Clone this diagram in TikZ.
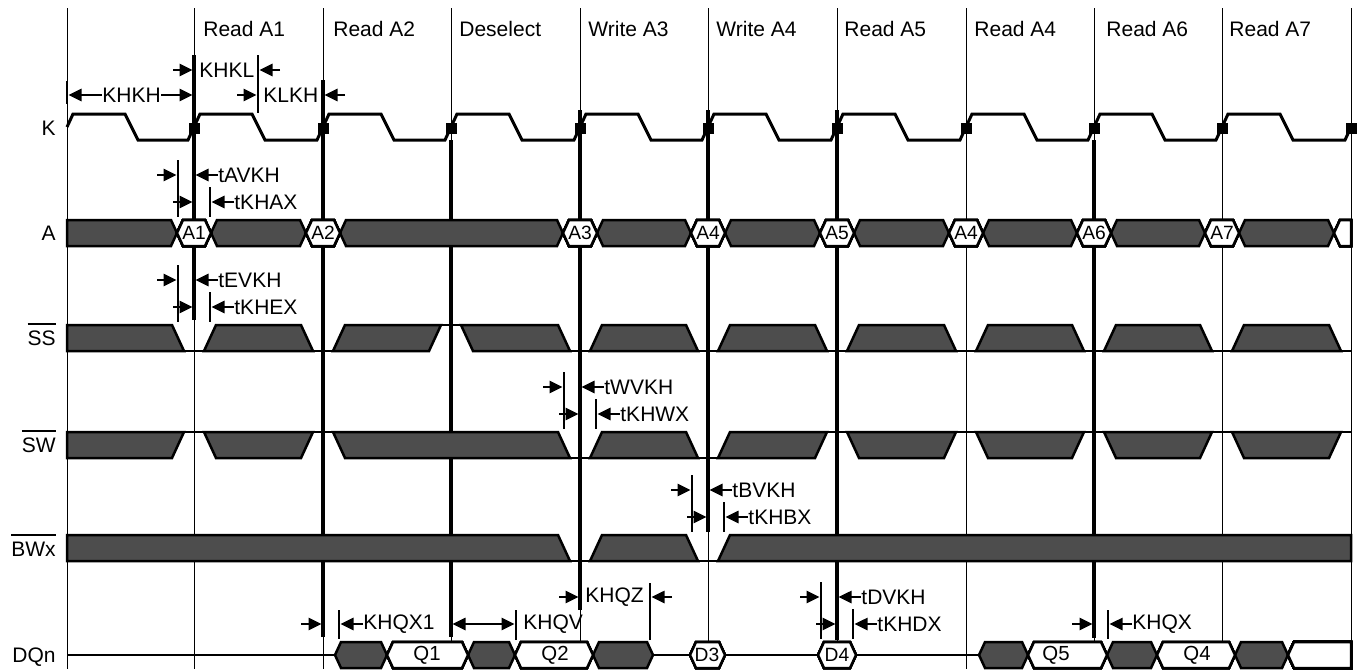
\documentclass[tikz,border=0pt]{standalone}
\usepackage{fontspec}
\setmainfont{Liberation Sans}
\usetikzlibrary{arrows.meta}

\definecolor{busgray}{RGB}{77,77,77}

\tikzset{
  grid line/.style={line width=0.5pt},
  edge line/.style={line width=1.6pt},
  tick line/.style={line width=1.4pt},
  clock/.style={line width=1.5pt, line join=miter},
  wave/.style={line width=1.25pt, line join=miter},
  bus/.style={wave, fill=busgray},
  busval/.style={wave, fill=white},
  tlabel/.style={font=\fontsize{10.5}{12}\selectfont, inner sep=0pt, anchor=west},
  siglabel/.style={font=\fontsize{10.5}{12}\selectfont, inner sep=0pt, anchor=base east},
  alabel/.style={font=\fontsize{9.6}{11}\selectfont, inner sep=0pt},
  qlabel/.style={font=\fontsize{10.2}{12}\selectfont, inner sep=0pt},
  tarrow/.style={line width=1.3pt, -{Triangle[length=6.5pt,width=6pt]}},
  tdarrow/.style={line width=1.3pt, {Triangle[length=6.5pt,width=6pt]}-{Triangle[length=6.5pt,width=6pt]}},
}

% signal names with a bar over them
\newcommand{\negsig}[1]{\vbox{\hrule height 0.8pt\kern 2.8pt\hbox{#1}}}

% one bus cell from #2 to #3 round the line y = #4
\newcommand{\busseg}[4][bus]{%
  \draw[#1] ({#2},{#4}) -- ({#2+6},{#4-13}) -- ({#3-6},{#4-13}) -- ({#3},{#4})
    -- ({#3-6},{#4+13}) -- ({#2+6},{#4+13}) -- cycle;}

% don't care block: top y, then x of top left, top right, bottom right, bottom left
\newcommand{\dcbox}[5]{%
  \draw[bus] ({#2},{#1}) -- ({#3},{#1}) -- ({#4},{#1+26}) -- ({#5},{#1+26}) -- cycle;}

% arrows pointing in at #1 and #2, text after #1
\newcommand{\timewin}[5]{%
  \node[tlabel] (#5) at ({#1+5},{#3}) {#4};
  \coordinate (#5-a) at ({#1-21},{#3});
  \coordinate (#5-b) at ({#1-1.5},{#3});
  \coordinate (#5-c) at ({#2+22},{#3});
  \coordinate (#5-d) at ({#2+1.5},{#3});
  \draw[tarrow] (#5-a) -- (#5-b);
  \draw[tarrow] (#5-c) -- (#5-d);}

% setup and hold marks round edge #1 above a signal whose top is #2
\newcommand{\setuphold}[5]{%
  \coordinate (#5-s1) at ({#1-16},{#2-60});
  \coordinate (#5-s2) at ({#1-16},{#2-3});
  \coordinate (#5-h1) at ({#1+16},{#2-33});
  \coordinate (#5-h2) at ({#1+16},{#2-3});
  \draw[tick line] (#5-s1) -- (#5-s2);
  \draw[tick line] (#5-h1) -- (#5-h2);
  \node[tlabel] (#5-su) at ({#1+24},{#2-45}) {#3};
  \node[tlabel] (#5-ho) at ({#1+40},{#2-18}) {#4};
  \coordinate (#5-a) at ({#1-37},{#2-45});
  \coordinate (#5-b) at ({#1-17.5},{#2-45});
  \coordinate (#5-c) at ({#1+1.5},{#2-45});
  \coordinate (#5-d) at ({#1-21},{#2-18});
  \coordinate (#5-e) at ({#1-1.5},{#2-18});
  \coordinate (#5-f) at ({#1+17.5},{#2-18});
  \draw[tarrow] (#5-a) -- (#5-b);
  \draw[tarrow] (#5-su.west) -- (#5-c);
  \draw[tarrow] (#5-d) -- (#5-e);
  \draw[tarrow] (#5-ho.west) -- (#5-f);}

% output hold mark: edge #1, tick #2, y #3
\newcommand{\holdmark}[5]{%
  \coordinate (#5-t1) at ({#2},{#3-14});
  \coordinate (#5-t2) at ({#2},{#3+15});
  \draw[tick line] (#5-t1) -- (#5-t2);
  \node[tlabel] (#5) at ({#2+24},{#3}) {#4};
  \coordinate (#5-a) at ({#1-22},{#3});
  \coordinate (#5-b) at ({#1-1.5},{#3});
  \coordinate (#5-c) at ({#2+1.5},{#3});
  \draw[tarrow] (#5-a) -- (#5-b);
  \draw[tarrow] (#5.west) -- (#5-c);}

\begin{document}
\begin{tikzpicture}[x=0.5pt,y=-0.5pt]
  \useasboundingbox (0,0) rectangle (1358,669);

  % clock edges
  \foreach \e in {67,194,323,451,580,708,837,966,1094,1222,1351}
    \draw[grid line] (\e,8) -- (\e,669);
  \foreach \e/\a/\b in {194/55/320,323/80/637,451/140/637,580/110/610,
      708/110/532,837/110/640,1094/140/638}
    \draw[edge line] (\e,\a) -- (\e,\b);

  % cycle names
  \foreach \x/\t [count=\i] in {203/Read A1,333/Read A2,459/Deselect,588/Write A3,
      716/Write A4,844/Read A5,974/Read A4,1106/Read A6,1229/Read A7}
    \node[tlabel,anchor=base west] (cyc\i) at (\x,36) {\t};

  % signal names
  \node[siglabel] (k) at (56,135) {K};
  \node[siglabel] (a) at (56,240) {A};
  \node[siglabel] (ss) at (56,345) {\negsig{SS}};
  \node[siglabel] (sw) at (56,452) {\negsig{SW}};
  \node[siglabel] (bw) at (56,556) {\negsig{BWx}};
  \node[siglabel] (dq) at (56,662) {DQn};

  % K
  \draw[clock] (67,127) -- (73,114)
    \foreach \e/\n in {67/194,194/323,323/451,451/580,580/708,708/837,
        837/966,966/1094,1094/1222}
      { -- ({\e+58},114) -- ({\e+71},140) -- ({\n-6},140) -- ({\n+6},114) }
    -- (1280,114) -- (1293,140) -- (1345,140) -- (1351,127);
  \foreach \e in {194,323,451,580,708,837,966,1094,1222,1351}
    \fill ({\e-5.5},122.5) rectangle ({\e+5.5},133.5);

  % A
  \draw[bus] (67,220) -- (171,220) -- (177,233) -- (171,246) -- (67,246) -- cycle;
  \foreach \a/\b in {211/306,340/563,597/691,725/820,854/949,983/1077,1111/1205,1239/1334}
    \busseg{\a}{\b}{233}
  \foreach \c/\t [count=\i] in {194/A1,323/A2,580/A3,708/A4,837/A5,966/A4,1094/A6,1222/A7}
    {\busseg[busval]{\c-17}{\c+17}{233}
     \node[alabel] (adr\i) at (\c,233) {\t};}
  \draw[busval] (1334,233) -- (1340,220) -- (1351,220) -- (1351,246) -- (1340,246) -- cycle;

  % SS
  \dcbox{325}{67}{172}{184}{67}
  \dcbox{325}{216}{301}{313}{204}
  \dcbox{325}{345}{441}{429}{333}
  \dcbox{325}{461}{558}{570}{473}
  \dcbox{325}{602}{686}{698}{590}
  \dcbox{325}{730}{815}{827}{718}
  \dcbox{325}{859}{944}{956}{847}
  \dcbox{325}{988}{1072}{1084}{976}
  \dcbox{325}{1116}{1200}{1212}{1104}
  \dcbox{325}{1244}{1329}{1341}{1232}
  \foreach \a/\b in {184/204,313/333,570/590,698/718,827/847,956/976,1084/1104,1212/1232,1341/1351}
    \draw[wave] (\a,351) -- (\b,351);
  \draw[wave] (441,325) -- (461,325);

  % SW
  \dcbox{432}{67}{184}{172}{67}
  \dcbox{432}{204}{313}{301}{216}
  \dcbox{432}{333}{558}{570}{345}
  \dcbox{432}{602}{686}{698}{590}
  \dcbox{432}{730}{827}{815}{718}
  \dcbox{432}{847}{956}{944}{859}
  \dcbox{432}{976}{1084}{1072}{988}
  \dcbox{432}{1104}{1212}{1200}{1116}
  \dcbox{432}{1232}{1341}{1329}{1244}
  \foreach \a/\b in {184/204,313/333,827/847,956/976,1084/1104,1212/1232,1341/1351}
    \draw[wave] (\a,432) -- (\b,432);
  \foreach \a/\b in {570/590,698/718}
    \draw[wave] (\a,458) -- (\b,458);

  % BWx
  \dcbox{535}{67}{558}{570}{67}
  \dcbox{535}{602}{686}{698}{590}
  \dcbox{535}{730}{1351}{1351}{718}
  \foreach \a/\b in {570/590,698/718}
    \draw[wave] (\a,561) -- (\b,561);

  % DQn
  \foreach \a/\b in {67/335,653/690,725/818,856/979}
    \draw[wave] (\a,655) -- (\b,655);
  \foreach \a/\b in {335/387,468/515,593/653,979/1028,1107/1157,1235/1288}
    \busseg{\a}{\b}{655}
  \foreach \a/\b in {387/468,515/593,690/725,818/856,1028/1107,1157/1235}
    \busseg[busval]{\a}{\b}{655}
  \draw[busval] (1288,655) -- (1294,642) -- (1351,642) -- (1351,668) -- (1294,668) -- cycle;
  \node[qlabel] (q1) at (427,655) {Q1};
  \node[qlabel] (q2) at (555,655) {Q2};
  \node[alabel] (d3) at (707,655) {D3};
  \node[alabel] (d4) at (837,655) {D4};
  \node[qlabel] (q5) at (1056,655) {Q5};
  \node[qlabel] (q4) at (1197,655) {Q4};

  % clock timings
  \coordinate (khkh-t1) at (67,81);
  \coordinate (khkh-t2) at (67,104);
  \draw[tick line] (khkh-t1) -- (khkh-t2);
  \node[tlabel] (khkh) at (102,95) {KHKH};
  \coordinate (khkh-l) at (68.5,95);
  \coordinate (khkh-r) at (192.5,95);
  \draw[tarrow] (khkh.west) -- (khkh-l);
  \draw[tarrow] (khkh.east) -- (khkh-r);
  \coordinate (khkl-t1) at (258,55);
  \coordinate (khkl-t2) at (258,113);
  \draw[tick line] (khkl-t1) -- (khkl-t2);
  \timewin{194}{258}{70}{KHKL}{khkl}
  \timewin{258}{323}{95}{KLKH}{klkh}

  % input setup and hold
  \setuphold{194}{220}{tAVKH}{tKHAX}{av}
  \setuphold{194}{325}{tEVKH}{tKHEX}{ev}
  \setuphold{580}{432}{tWVKH}{tKHWX}{wv}
  \setuphold{708}{535}{tBVKH}{tKHBX}{bv}
  \setuphold{837}{642}{tDVKH}{tKHDX}{dv}

  % output timings
  \holdmark{323}{339}{624}{KHQX1}{khqx1}
  \holdmark{1094}{1108}{624}{KHQX}{khqx}
  \coordinate (khqv-t1) at (516,610);
  \coordinate (khqv-t2) at (516,640);
  \draw[tick line] (khqv-t1) -- (khqv-t2);
  \coordinate (khqv-a) at (452.5,624);
  \coordinate (khqv-b) at (514.5,624);
  \draw[tdarrow] (khqv-a) -- (khqv-b);
  \node[tlabel] (khqv) at (523,624) {KHQV};
  \coordinate (khqz-t1) at (650,583);
  \coordinate (khqz-t2) at (650,640);
  \draw[tick line] (khqz-t1) -- (khqz-t2);
  \timewin{580}{650}{597}{KHQZ}{khqz}
\end{tikzpicture}
\end{document}
